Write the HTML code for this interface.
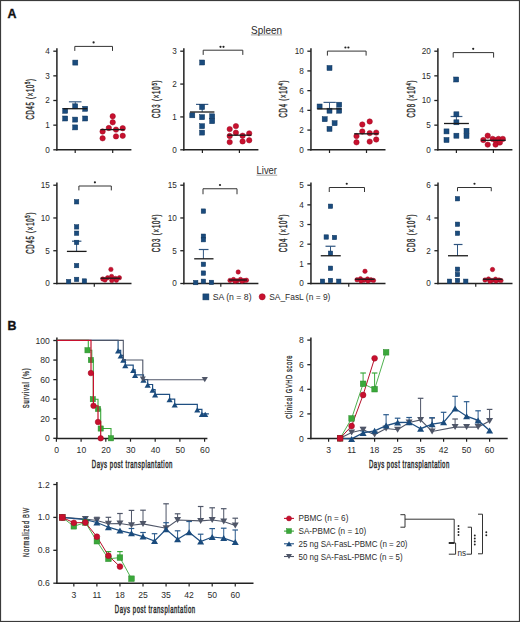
<!DOCTYPE html>
<html><head><meta charset="utf-8"><style>
html,body{margin:0;padding:0;background:#fff;}
svg{display:block;}
text{font-family:'Liberation Sans', sans-serif;}
</style></head><body>
<svg width="520" height="622" viewBox="0 0 520 622" font-family="'Liberation Sans', sans-serif">
<rect x="0.5" y="0.5" width="519" height="621" fill="#fff" stroke="#3a3a3a" stroke-width="1.2"/>
<text x="7.4" y="18" font-size="12.4" text-anchor="start" fill="#111" font-weight="bold" stroke="#111" stroke-width="0.35">A</text>
<text x="7.4" y="329.6" font-size="12.4" text-anchor="start" fill="#111" font-weight="bold" stroke="#111" stroke-width="0.35">B</text>
<text x="266.5" y="33.9" font-size="10.8" text-anchor="middle" fill="#2b2b2b" font-weight="normal" textLength="31.0" lengthAdjust="spacingAndGlyphs">Spleen</text>
<line x1="250.90" y1="34.90" x2="282.10" y2="34.90" stroke="#555" stroke-width="0.55"/>
<text x="266.8" y="173.9" font-size="10.8" text-anchor="middle" fill="#2b2b2b" font-weight="normal" textLength="20.4" lengthAdjust="spacingAndGlyphs">Liver</text>
<line x1="256.50" y1="175.20" x2="277.20" y2="175.20" stroke="#555" stroke-width="0.55"/>
<line x1="56.90" y1="48.30" x2="56.90" y2="150.50" stroke="#222222" stroke-width="1.5"/>
<line x1="53.30" y1="149.80" x2="56.90" y2="149.80" stroke="#222222" stroke-width="1.3"/>
<text x="49.8" y="152.67000000000002" font-size="8.2" text-anchor="end" fill="#2b2b2b" font-weight="normal">0</text>
<line x1="53.30" y1="125.15" x2="56.90" y2="125.15" stroke="#222222" stroke-width="1.3"/>
<text x="49.8" y="128.02" font-size="8.2" text-anchor="end" fill="#2b2b2b" font-weight="normal">1</text>
<line x1="53.30" y1="100.50" x2="56.90" y2="100.50" stroke="#222222" stroke-width="1.3"/>
<text x="49.8" y="103.37" font-size="8.2" text-anchor="end" fill="#2b2b2b" font-weight="normal">2</text>
<line x1="53.30" y1="75.85" x2="56.90" y2="75.85" stroke="#222222" stroke-width="1.3"/>
<text x="49.8" y="78.72000000000001" font-size="8.2" text-anchor="end" fill="#2b2b2b" font-weight="normal">3</text>
<line x1="53.30" y1="51.20" x2="56.90" y2="51.20" stroke="#222222" stroke-width="1.3"/>
<text x="49.8" y="54.07" font-size="8.2" text-anchor="end" fill="#2b2b2b" font-weight="normal">4</text>
<line x1="56.20" y1="149.80" x2="131.40" y2="149.80" stroke="#222222" stroke-width="1.5"/>
<line x1="75.20" y1="149.80" x2="75.20" y2="153.00" stroke="#222222" stroke-width="1.2"/>
<line x1="112.70" y1="149.80" x2="112.70" y2="153.00" stroke="#222222" stroke-width="1.2"/>
<line x1="75.30" y1="101.80" x2="75.30" y2="108.70" stroke="#3c5f88" stroke-width="1.0"/>
<line x1="68.90" y1="101.80" x2="81.50" y2="101.80" stroke="#3c5f88" stroke-width="1.2"/>
<rect x="72.80" y="60.10" width="5" height="5" fill="#1a4b7d" stroke="#10375e" stroke-width="0.5"/>
<rect x="72.70" y="103.80" width="5" height="5" fill="#1a4b7d" stroke="#10375e" stroke-width="0.5"/>
<rect x="62.70" y="108.30" width="5" height="5" fill="#1a4b7d" stroke="#10375e" stroke-width="0.5"/>
<rect x="82.70" y="106.30" width="5" height="5" fill="#1a4b7d" stroke="#10375e" stroke-width="0.5"/>
<rect x="62.70" y="116.00" width="5" height="5" fill="#1a4b7d" stroke="#10375e" stroke-width="0.5"/>
<rect x="72.70" y="117.10" width="5" height="5" fill="#1a4b7d" stroke="#10375e" stroke-width="0.5"/>
<rect x="82.70" y="116.00" width="5" height="5" fill="#1a4b7d" stroke="#10375e" stroke-width="0.5"/>
<rect x="72.70" y="124.90" width="5" height="5" fill="#1a4b7d" stroke="#10375e" stroke-width="0.5"/>
<circle cx="112.70" cy="116.30" r="2.7" fill="#c8102e" stroke="#9c0a22" stroke-width="0.5"/>
<circle cx="112.70" cy="122.30" r="2.7" fill="#c8102e" stroke="#9c0a22" stroke-width="0.5"/>
<circle cx="102.60" cy="131.50" r="2.7" fill="#c8102e" stroke="#9c0a22" stroke-width="0.5"/>
<circle cx="108.80" cy="128.00" r="2.7" fill="#c8102e" stroke="#9c0a22" stroke-width="0.5"/>
<circle cx="116.00" cy="129.60" r="2.7" fill="#c8102e" stroke="#9c0a22" stroke-width="0.5"/>
<circle cx="122.70" cy="128.20" r="2.7" fill="#c8102e" stroke="#9c0a22" stroke-width="0.5"/>
<circle cx="102.60" cy="138.30" r="2.7" fill="#c8102e" stroke="#9c0a22" stroke-width="0.5"/>
<circle cx="116.00" cy="136.40" r="2.7" fill="#c8102e" stroke="#9c0a22" stroke-width="0.5"/>
<circle cx="122.70" cy="135.80" r="2.7" fill="#c8102e" stroke="#9c0a22" stroke-width="0.5"/>
<line x1="63.20" y1="108.70" x2="87.20" y2="108.70" stroke="#1a1a1a" stroke-width="1.3"/>
<line x1="100.60" y1="129.60" x2="124.60" y2="129.60" stroke="#1a1a1a" stroke-width="1.3"/>
<polyline points="74.80,50.90 74.80,46.40 112.50,46.40 112.50,50.90" fill="none" stroke="#333" stroke-width="1.0" stroke-linejoin="miter"/>
<circle cx="93.60" cy="42.40" r="1.1" fill="#222"/>
<g transform="translate(33.5 99.25) rotate(-90) scale(0.6 1)"><text x="-33.92" y="0" font-size="10.0" fill="#2b2b2b" stroke="#2b2b2b" stroke-width="0.4" textLength="67.83" lengthAdjust="spacing">CD45 (×10<tspan dy="-3.8" font-size="7.00">5</tspan><tspan dy="3.8">)</tspan></text></g>
<line x1="183.85" y1="48.30" x2="183.85" y2="150.50" stroke="#222222" stroke-width="1.5"/>
<line x1="180.25" y1="149.80" x2="183.85" y2="149.80" stroke="#222222" stroke-width="1.3"/>
<text x="176.75" y="152.67000000000002" font-size="8.2" text-anchor="end" fill="#2b2b2b" font-weight="normal">0</text>
<line x1="180.25" y1="116.93" x2="183.85" y2="116.93" stroke="#222222" stroke-width="1.3"/>
<text x="176.75" y="119.80333333333334" font-size="8.2" text-anchor="end" fill="#2b2b2b" font-weight="normal">1</text>
<line x1="180.25" y1="84.07" x2="183.85" y2="84.07" stroke="#222222" stroke-width="1.3"/>
<text x="176.75" y="86.93666666666668" font-size="8.2" text-anchor="end" fill="#2b2b2b" font-weight="normal">2</text>
<line x1="180.25" y1="51.20" x2="183.85" y2="51.20" stroke="#222222" stroke-width="1.3"/>
<text x="176.75" y="54.07" font-size="8.2" text-anchor="end" fill="#2b2b2b" font-weight="normal">3</text>
<line x1="183.15" y1="149.80" x2="258.40" y2="149.80" stroke="#222222" stroke-width="1.5"/>
<line x1="202.40" y1="149.80" x2="202.40" y2="153.00" stroke="#222222" stroke-width="1.2"/>
<line x1="239.40" y1="149.80" x2="239.40" y2="153.00" stroke="#222222" stroke-width="1.2"/>
<line x1="202.20" y1="104.40" x2="202.20" y2="112.00" stroke="#3c5f88" stroke-width="1.0"/>
<line x1="196.00" y1="104.40" x2="208.30" y2="104.40" stroke="#3c5f88" stroke-width="1.2"/>
<rect x="199.70" y="60.00" width="5" height="5" fill="#1a4b7d" stroke="#10375e" stroke-width="0.5"/>
<rect x="199.60" y="104.60" width="5" height="5" fill="#1a4b7d" stroke="#10375e" stroke-width="0.5"/>
<rect x="189.80" y="112.80" width="5" height="5" fill="#1a4b7d" stroke="#10375e" stroke-width="0.5"/>
<rect x="199.60" y="114.70" width="5" height="5" fill="#1a4b7d" stroke="#10375e" stroke-width="0.5"/>
<rect x="209.70" y="113.80" width="5" height="5" fill="#1a4b7d" stroke="#10375e" stroke-width="0.5"/>
<rect x="209.70" y="118.70" width="5" height="5" fill="#1a4b7d" stroke="#10375e" stroke-width="0.5"/>
<rect x="199.60" y="123.70" width="5" height="5" fill="#1a4b7d" stroke="#10375e" stroke-width="0.5"/>
<rect x="199.60" y="130.10" width="5" height="5" fill="#1a4b7d" stroke="#10375e" stroke-width="0.5"/>
<circle cx="235.90" cy="126.10" r="2.7" fill="#c8102e" stroke="#9c0a22" stroke-width="0.5"/>
<circle cx="229.70" cy="129.10" r="2.7" fill="#c8102e" stroke="#9c0a22" stroke-width="0.5"/>
<circle cx="235.90" cy="132.70" r="2.7" fill="#c8102e" stroke="#9c0a22" stroke-width="0.5"/>
<circle cx="229.70" cy="136.00" r="2.7" fill="#c8102e" stroke="#9c0a22" stroke-width="0.5"/>
<circle cx="242.60" cy="135.70" r="2.7" fill="#c8102e" stroke="#9c0a22" stroke-width="0.5"/>
<circle cx="249.20" cy="133.40" r="2.7" fill="#c8102e" stroke="#9c0a22" stroke-width="0.5"/>
<circle cx="229.70" cy="142.10" r="2.7" fill="#c8102e" stroke="#9c0a22" stroke-width="0.5"/>
<circle cx="242.60" cy="141.40" r="2.7" fill="#c8102e" stroke="#9c0a22" stroke-width="0.5"/>
<circle cx="249.20" cy="140.30" r="2.7" fill="#c8102e" stroke="#9c0a22" stroke-width="0.5"/>
<line x1="190.00" y1="112.00" x2="214.40" y2="112.00" stroke="#1a1a1a" stroke-width="1.3"/>
<line x1="227.60" y1="135.20" x2="251.30" y2="135.20" stroke="#1a1a1a" stroke-width="1.3"/>
<polyline points="203.20,54.90 203.20,50.20 242.80,50.20 242.80,54.90" fill="none" stroke="#333" stroke-width="1.0" stroke-linejoin="miter"/>
<circle cx="220.50" cy="46.80" r="1.1" fill="#222"/>
<circle cx="223.50" cy="46.80" r="1.1" fill="#222"/>
<g transform="translate(160.3 99.25) rotate(-90) scale(0.6 1)"><text x="-31.42" y="0" font-size="10.0" fill="#2b2b2b" stroke="#2b2b2b" stroke-width="0.4" textLength="62.83" lengthAdjust="spacing">CD3 (×10<tspan dy="-3.8" font-size="7.00">5</tspan><tspan dy="3.8">)</tspan></text></g>
<line x1="310.95" y1="48.30" x2="310.95" y2="150.50" stroke="#222222" stroke-width="1.5"/>
<line x1="307.35" y1="149.80" x2="310.95" y2="149.80" stroke="#222222" stroke-width="1.3"/>
<text x="303.84999999999997" y="152.67000000000002" font-size="8.2" text-anchor="end" fill="#2b2b2b" font-weight="normal">0</text>
<line x1="307.35" y1="130.08" x2="310.95" y2="130.08" stroke="#222222" stroke-width="1.3"/>
<text x="303.84999999999997" y="132.95000000000002" font-size="8.2" text-anchor="end" fill="#2b2b2b" font-weight="normal">2</text>
<line x1="307.35" y1="110.36" x2="310.95" y2="110.36" stroke="#222222" stroke-width="1.3"/>
<text x="303.84999999999997" y="113.23000000000002" font-size="8.2" text-anchor="end" fill="#2b2b2b" font-weight="normal">4</text>
<line x1="307.35" y1="90.64" x2="310.95" y2="90.64" stroke="#222222" stroke-width="1.3"/>
<text x="303.84999999999997" y="93.51000000000002" font-size="8.2" text-anchor="end" fill="#2b2b2b" font-weight="normal">6</text>
<line x1="307.35" y1="70.92" x2="310.95" y2="70.92" stroke="#222222" stroke-width="1.3"/>
<text x="303.84999999999997" y="73.79" font-size="8.2" text-anchor="end" fill="#2b2b2b" font-weight="normal">8</text>
<line x1="307.35" y1="51.20" x2="310.95" y2="51.20" stroke="#222222" stroke-width="1.3"/>
<text x="303.84999999999997" y="54.07" font-size="8.2" text-anchor="end" fill="#2b2b2b" font-weight="normal">10</text>
<line x1="310.25" y1="149.80" x2="385.50" y2="149.80" stroke="#222222" stroke-width="1.5"/>
<line x1="329.50" y1="149.80" x2="329.50" y2="153.00" stroke="#222222" stroke-width="1.2"/>
<line x1="366.50" y1="149.80" x2="366.50" y2="153.00" stroke="#222222" stroke-width="1.2"/>
<line x1="329.50" y1="102.40" x2="329.50" y2="108.90" stroke="#3c5f88" stroke-width="1.0"/>
<line x1="323.50" y1="102.40" x2="335.80" y2="102.40" stroke="#3c5f88" stroke-width="1.2"/>
<rect x="327.00" y="65.50" width="5" height="5" fill="#1a4b7d" stroke="#10375e" stroke-width="0.5"/>
<rect x="317.10" y="104.00" width="5" height="5" fill="#1a4b7d" stroke="#10375e" stroke-width="0.5"/>
<rect x="336.70" y="102.20" width="5" height="5" fill="#1a4b7d" stroke="#10375e" stroke-width="0.5"/>
<rect x="336.70" y="108.20" width="5" height="5" fill="#1a4b7d" stroke="#10375e" stroke-width="0.5"/>
<rect x="327.00" y="108.20" width="5" height="5" fill="#1a4b7d" stroke="#10375e" stroke-width="0.5"/>
<rect x="322.20" y="116.70" width="5" height="5" fill="#1a4b7d" stroke="#10375e" stroke-width="0.5"/>
<rect x="332.10" y="120.70" width="5" height="5" fill="#1a4b7d" stroke="#10375e" stroke-width="0.5"/>
<rect x="327.00" y="126.40" width="5" height="5" fill="#1a4b7d" stroke="#10375e" stroke-width="0.5"/>
<circle cx="369.70" cy="121.50" r="2.7" fill="#c8102e" stroke="#9c0a22" stroke-width="0.5"/>
<circle cx="362.30" cy="124.50" r="2.7" fill="#c8102e" stroke="#9c0a22" stroke-width="0.5"/>
<circle cx="356.50" cy="136.10" r="2.7" fill="#c8102e" stroke="#9c0a22" stroke-width="0.5"/>
<circle cx="362.30" cy="131.50" r="2.7" fill="#c8102e" stroke="#9c0a22" stroke-width="0.5"/>
<circle cx="369.70" cy="133.10" r="2.7" fill="#c8102e" stroke="#9c0a22" stroke-width="0.5"/>
<circle cx="376.20" cy="132.60" r="2.7" fill="#c8102e" stroke="#9c0a22" stroke-width="0.5"/>
<circle cx="356.50" cy="142.30" r="2.7" fill="#c8102e" stroke="#9c0a22" stroke-width="0.5"/>
<circle cx="369.70" cy="141.60" r="2.7" fill="#c8102e" stroke="#9c0a22" stroke-width="0.5"/>
<circle cx="376.20" cy="139.50" r="2.7" fill="#c8102e" stroke="#9c0a22" stroke-width="0.5"/>
<line x1="317.30" y1="108.90" x2="341.50" y2="108.90" stroke="#1a1a1a" stroke-width="1.3"/>
<line x1="354.20" y1="133.80" x2="378.50" y2="133.80" stroke="#1a1a1a" stroke-width="1.3"/>
<polyline points="327.40,55.60 327.40,51.10 366.10,51.10 366.10,55.60" fill="none" stroke="#333" stroke-width="1.0" stroke-linejoin="miter"/>
<circle cx="345.40" cy="47.50" r="1.1" fill="#222"/>
<circle cx="348.40" cy="47.50" r="1.1" fill="#222"/>
<g transform="translate(287.2 98.95) rotate(-90) scale(0.6 1)"><text x="-30.92" y="0" font-size="10.0" fill="#2b2b2b" stroke="#2b2b2b" stroke-width="0.4" textLength="61.83" lengthAdjust="spacing">CD4 (×10<tspan dy="-3.8" font-size="7.00">4</tspan><tspan dy="3.8">)</tspan></text></g>
<line x1="437.90" y1="48.30" x2="437.90" y2="150.50" stroke="#222222" stroke-width="1.5"/>
<line x1="434.30" y1="149.80" x2="437.90" y2="149.80" stroke="#222222" stroke-width="1.3"/>
<text x="430.79999999999995" y="152.67000000000002" font-size="8.2" text-anchor="end" fill="#2b2b2b" font-weight="normal">0</text>
<line x1="434.30" y1="125.15" x2="437.90" y2="125.15" stroke="#222222" stroke-width="1.3"/>
<text x="430.79999999999995" y="128.02" font-size="8.2" text-anchor="end" fill="#2b2b2b" font-weight="normal">5</text>
<line x1="434.30" y1="100.50" x2="437.90" y2="100.50" stroke="#222222" stroke-width="1.3"/>
<text x="430.79999999999995" y="103.37" font-size="8.2" text-anchor="end" fill="#2b2b2b" font-weight="normal">10</text>
<line x1="434.30" y1="75.85" x2="437.90" y2="75.85" stroke="#222222" stroke-width="1.3"/>
<text x="430.79999999999995" y="78.72000000000001" font-size="8.2" text-anchor="end" fill="#2b2b2b" font-weight="normal">15</text>
<line x1="434.30" y1="51.20" x2="437.90" y2="51.20" stroke="#222222" stroke-width="1.3"/>
<text x="430.79999999999995" y="54.07" font-size="8.2" text-anchor="end" fill="#2b2b2b" font-weight="normal">20</text>
<line x1="437.20" y1="149.80" x2="512.40" y2="149.80" stroke="#222222" stroke-width="1.5"/>
<line x1="456.40" y1="149.80" x2="456.40" y2="153.00" stroke="#222222" stroke-width="1.2"/>
<line x1="493.40" y1="149.80" x2="493.40" y2="153.00" stroke="#222222" stroke-width="1.2"/>
<line x1="456.40" y1="116.50" x2="456.40" y2="123.50" stroke="#3c5f88" stroke-width="1.0"/>
<line x1="450.60" y1="116.50" x2="462.40" y2="116.50" stroke="#3c5f88" stroke-width="1.2"/>
<rect x="453.70" y="77.00" width="5" height="5" fill="#1a4b7d" stroke="#10375e" stroke-width="0.5"/>
<rect x="453.90" y="111.80" width="5" height="5" fill="#1a4b7d" stroke="#10375e" stroke-width="0.5"/>
<rect x="453.90" y="119.80" width="5" height="5" fill="#1a4b7d" stroke="#10375e" stroke-width="0.5"/>
<rect x="444.00" y="128.90" width="5" height="5" fill="#1a4b7d" stroke="#10375e" stroke-width="0.5"/>
<rect x="444.00" y="137.50" width="5" height="5" fill="#1a4b7d" stroke="#10375e" stroke-width="0.5"/>
<rect x="453.90" y="133.20" width="5" height="5" fill="#1a4b7d" stroke="#10375e" stroke-width="0.5"/>
<rect x="464.00" y="128.30" width="5" height="5" fill="#1a4b7d" stroke="#10375e" stroke-width="0.5"/>
<rect x="464.00" y="133.40" width="5" height="5" fill="#1a4b7d" stroke="#10375e" stroke-width="0.5"/>
<circle cx="487.70" cy="135.70" r="2.7" fill="#c8102e" stroke="#9c0a22" stroke-width="0.5"/>
<circle cx="483.30" cy="140.00" r="2.7" fill="#c8102e" stroke="#9c0a22" stroke-width="0.5"/>
<circle cx="487.70" cy="144.60" r="2.7" fill="#c8102e" stroke="#9c0a22" stroke-width="0.5"/>
<circle cx="492.70" cy="138.90" r="2.7" fill="#c8102e" stroke="#9c0a22" stroke-width="0.5"/>
<circle cx="495.60" cy="140.30" r="2.7" fill="#c8102e" stroke="#9c0a22" stroke-width="0.5"/>
<circle cx="498.50" cy="138.90" r="2.7" fill="#c8102e" stroke="#9c0a22" stroke-width="0.5"/>
<circle cx="502.80" cy="138.90" r="2.7" fill="#c8102e" stroke="#9c0a22" stroke-width="0.5"/>
<circle cx="495.60" cy="144.60" r="2.7" fill="#c8102e" stroke="#9c0a22" stroke-width="0.5"/>
<circle cx="499.90" cy="142.50" r="2.7" fill="#c8102e" stroke="#9c0a22" stroke-width="0.5"/>
<line x1="444.00" y1="123.50" x2="468.90" y2="123.50" stroke="#1a1a1a" stroke-width="1.3"/>
<line x1="481.20" y1="140.30" x2="505.70" y2="140.30" stroke="#1a1a1a" stroke-width="1.3"/>
<polyline points="453.20,57.60 453.20,52.60 493.60,52.60 493.60,57.60" fill="none" stroke="#333" stroke-width="1.0" stroke-linejoin="miter"/>
<circle cx="473.20" cy="48.80" r="1.1" fill="#222"/>
<g transform="translate(415.0 98.95) rotate(-90) scale(0.6 1)"><text x="-30.92" y="0" font-size="10.0" fill="#2b2b2b" stroke="#2b2b2b" stroke-width="0.4" textLength="61.83" lengthAdjust="spacing">CD8 (×10<tspan dy="-3.8" font-size="7.00">4</tspan><tspan dy="3.8">)</tspan></text></g>
<line x1="56.90" y1="182.60" x2="56.90" y2="284.20" stroke="#222222" stroke-width="1.5"/>
<line x1="53.30" y1="283.50" x2="56.90" y2="283.50" stroke="#222222" stroke-width="1.3"/>
<text x="49.8" y="286.37" font-size="8.2" text-anchor="end" fill="#2b2b2b" font-weight="normal">0</text>
<line x1="53.30" y1="250.73" x2="56.90" y2="250.73" stroke="#222222" stroke-width="1.3"/>
<text x="49.8" y="253.60333333333332" font-size="8.2" text-anchor="end" fill="#2b2b2b" font-weight="normal">5</text>
<line x1="53.30" y1="217.97" x2="56.90" y2="217.97" stroke="#222222" stroke-width="1.3"/>
<text x="49.8" y="220.83666666666664" font-size="8.2" text-anchor="end" fill="#2b2b2b" font-weight="normal">10</text>
<line x1="53.30" y1="185.20" x2="56.90" y2="185.20" stroke="#222222" stroke-width="1.3"/>
<text x="49.8" y="188.07" font-size="8.2" text-anchor="end" fill="#2b2b2b" font-weight="normal">15</text>
<line x1="56.20" y1="283.50" x2="131.50" y2="283.50" stroke="#222222" stroke-width="1.5"/>
<line x1="94.30" y1="283.50" x2="94.30" y2="286.70" stroke="#222222" stroke-width="1.2"/>
<line x1="76.60" y1="241.20" x2="76.60" y2="251.40" stroke="#2f5580" stroke-width="1.0"/>
<line x1="72.00" y1="241.20" x2="81.40" y2="241.20" stroke="#2f5580" stroke-width="1.2"/>
<rect x="74.40" y="199.60" width="4.4" height="4.4" fill="#1a4b7d" stroke="#10375e" stroke-width="0.5"/>
<rect x="74.40" y="224.70" width="4.4" height="4.4" fill="#1a4b7d" stroke="#10375e" stroke-width="0.5"/>
<rect x="74.40" y="231.00" width="4.4" height="4.4" fill="#1a4b7d" stroke="#10375e" stroke-width="0.5"/>
<rect x="74.40" y="240.20" width="4.4" height="4.4" fill="#1a4b7d" stroke="#10375e" stroke-width="0.5"/>
<rect x="74.40" y="263.40" width="4.4" height="4.4" fill="#1a4b7d" stroke="#10375e" stroke-width="0.5"/>
<rect x="74.40" y="277.20" width="4.4" height="4.4" fill="#1a4b7d" stroke="#10375e" stroke-width="0.5"/>
<rect x="66.40" y="279.40" width="4.4" height="4.4" fill="#1a4b7d" stroke="#10375e" stroke-width="0.5"/>
<rect x="82.20" y="278.80" width="4.4" height="4.4" fill="#1a4b7d" stroke="#10375e" stroke-width="0.5"/>
<circle cx="110.90" cy="269.40" r="2.2" fill="#c8102e" stroke="#9c0a22" stroke-width="0.5"/>
<circle cx="102.80" cy="279.00" r="2.2" fill="#c8102e" stroke="#9c0a22" stroke-width="0.5"/>
<circle cx="107.60" cy="277.80" r="2.2" fill="#c8102e" stroke="#9c0a22" stroke-width="0.5"/>
<circle cx="111.60" cy="276.40" r="2.2" fill="#c8102e" stroke="#9c0a22" stroke-width="0.5"/>
<circle cx="115.40" cy="278.40" r="2.2" fill="#c8102e" stroke="#9c0a22" stroke-width="0.5"/>
<circle cx="119.40" cy="277.80" r="2.2" fill="#c8102e" stroke="#9c0a22" stroke-width="0.5"/>
<circle cx="111.80" cy="280.60" r="2.2" fill="#c8102e" stroke="#9c0a22" stroke-width="0.5"/>
<circle cx="116.40" cy="280.20" r="2.2" fill="#c8102e" stroke="#9c0a22" stroke-width="0.5"/>
<circle cx="105.00" cy="280.00" r="2.2" fill="#c8102e" stroke="#9c0a22" stroke-width="0.5"/>
<line x1="66.90" y1="251.40" x2="86.60" y2="251.40" stroke="#1a1a1a" stroke-width="1.3"/>
<line x1="100.50" y1="278.20" x2="120.30" y2="278.20" stroke="#1a1a1a" stroke-width="1.3"/>
<polyline points="78.90,190.40 78.90,186.00 111.30,186.00 111.30,190.40" fill="none" stroke="#333" stroke-width="1.0" stroke-linejoin="miter"/>
<circle cx="94.90" cy="182.30" r="1.1" fill="#222"/>
<g transform="translate(33.5 233.15) rotate(-90) scale(0.6 1)"><text x="-34.42" y="0" font-size="10.0" fill="#2b2b2b" stroke="#2b2b2b" stroke-width="0.4" textLength="68.83" lengthAdjust="spacing">CD45 (×10<tspan dy="-3.8" font-size="7.00">5</tspan><tspan dy="3.8">)</tspan></text></g>
<line x1="183.90" y1="182.60" x2="183.90" y2="284.20" stroke="#222222" stroke-width="1.5"/>
<line x1="180.30" y1="283.50" x2="183.90" y2="283.50" stroke="#222222" stroke-width="1.3"/>
<text x="176.8" y="286.37" font-size="8.2" text-anchor="end" fill="#2b2b2b" font-weight="normal">0</text>
<line x1="180.30" y1="250.73" x2="183.90" y2="250.73" stroke="#222222" stroke-width="1.3"/>
<text x="176.8" y="253.60333333333332" font-size="8.2" text-anchor="end" fill="#2b2b2b" font-weight="normal">5</text>
<line x1="180.30" y1="217.97" x2="183.90" y2="217.97" stroke="#222222" stroke-width="1.3"/>
<text x="176.8" y="220.83666666666664" font-size="8.2" text-anchor="end" fill="#2b2b2b" font-weight="normal">10</text>
<line x1="180.30" y1="185.20" x2="183.90" y2="185.20" stroke="#222222" stroke-width="1.3"/>
<text x="176.8" y="188.07" font-size="8.2" text-anchor="end" fill="#2b2b2b" font-weight="normal">15</text>
<line x1="183.20" y1="283.50" x2="258.40" y2="283.50" stroke="#222222" stroke-width="1.5"/>
<line x1="220.80" y1="283.50" x2="220.80" y2="286.70" stroke="#222222" stroke-width="1.2"/>
<line x1="203.40" y1="249.50" x2="203.40" y2="258.80" stroke="#2f5580" stroke-width="1.0"/>
<line x1="198.80" y1="249.50" x2="208.50" y2="249.50" stroke="#2f5580" stroke-width="1.2"/>
<rect x="201.20" y="208.90" width="4.4" height="4.4" fill="#1a4b7d" stroke="#10375e" stroke-width="0.5"/>
<rect x="201.20" y="234.00" width="4.4" height="4.4" fill="#1a4b7d" stroke="#10375e" stroke-width="0.5"/>
<rect x="201.20" y="237.50" width="4.4" height="4.4" fill="#1a4b7d" stroke="#10375e" stroke-width="0.5"/>
<rect x="201.20" y="262.10" width="4.4" height="4.4" fill="#1a4b7d" stroke="#10375e" stroke-width="0.5"/>
<rect x="201.20" y="270.90" width="4.4" height="4.4" fill="#1a4b7d" stroke="#10375e" stroke-width="0.5"/>
<rect x="201.20" y="279.10" width="4.4" height="4.4" fill="#1a4b7d" stroke="#10375e" stroke-width="0.5"/>
<rect x="193.50" y="280.40" width="4.4" height="4.4" fill="#1a4b7d" stroke="#10375e" stroke-width="0.5"/>
<rect x="209.30" y="280.20" width="4.4" height="4.4" fill="#1a4b7d" stroke="#10375e" stroke-width="0.5"/>
<circle cx="238.20" cy="272.00" r="2.2" fill="#c8102e" stroke="#9c0a22" stroke-width="0.5"/>
<circle cx="230.00" cy="280.40" r="2.2" fill="#c8102e" stroke="#9c0a22" stroke-width="0.5"/>
<circle cx="233.50" cy="279.50" r="2.2" fill="#c8102e" stroke="#9c0a22" stroke-width="0.5"/>
<circle cx="237.00" cy="280.80" r="2.2" fill="#c8102e" stroke="#9c0a22" stroke-width="0.5"/>
<circle cx="240.50" cy="279.40" r="2.2" fill="#c8102e" stroke="#9c0a22" stroke-width="0.5"/>
<circle cx="244.00" cy="280.50" r="2.2" fill="#c8102e" stroke="#9c0a22" stroke-width="0.5"/>
<circle cx="246.50" cy="280.20" r="2.2" fill="#c8102e" stroke="#9c0a22" stroke-width="0.5"/>
<circle cx="235.00" cy="281.30" r="2.2" fill="#c8102e" stroke="#9c0a22" stroke-width="0.5"/>
<circle cx="242.00" cy="281.20" r="2.2" fill="#c8102e" stroke="#9c0a22" stroke-width="0.5"/>
<line x1="194.20" y1="258.80" x2="213.50" y2="258.80" stroke="#1a1a1a" stroke-width="1.3"/>
<line x1="229.00" y1="280.00" x2="247.00" y2="280.00" stroke="#1a1a1a" stroke-width="1.3"/>
<polyline points="203.00,194.25 203.00,188.75 237.00,188.75 237.00,194.25" fill="none" stroke="#333" stroke-width="1.0" stroke-linejoin="miter"/>
<circle cx="220.00" cy="185.00" r="1.1" fill="#222"/>
<g transform="translate(160.3 233.4) rotate(-90) scale(0.6 1)"><text x="-31.33" y="0" font-size="10.0" fill="#2b2b2b" stroke="#2b2b2b" stroke-width="0.4" textLength="62.67" lengthAdjust="spacing">CD3 (×10<tspan dy="-3.8" font-size="7.00">4</tspan><tspan dy="3.8">)</tspan></text></g>
<line x1="310.95" y1="182.60" x2="310.95" y2="284.20" stroke="#222222" stroke-width="1.5"/>
<line x1="307.35" y1="283.50" x2="310.95" y2="283.50" stroke="#222222" stroke-width="1.3"/>
<text x="303.84999999999997" y="286.37" font-size="8.2" text-anchor="end" fill="#2b2b2b" font-weight="normal">0</text>
<line x1="307.35" y1="263.84" x2="310.95" y2="263.84" stroke="#222222" stroke-width="1.3"/>
<text x="303.84999999999997" y="266.71" font-size="8.2" text-anchor="end" fill="#2b2b2b" font-weight="normal">1</text>
<line x1="307.35" y1="244.18" x2="310.95" y2="244.18" stroke="#222222" stroke-width="1.3"/>
<text x="303.84999999999997" y="247.05" font-size="8.2" text-anchor="end" fill="#2b2b2b" font-weight="normal">2</text>
<line x1="307.35" y1="224.52" x2="310.95" y2="224.52" stroke="#222222" stroke-width="1.3"/>
<text x="303.84999999999997" y="227.39" font-size="8.2" text-anchor="end" fill="#2b2b2b" font-weight="normal">3</text>
<line x1="307.35" y1="204.86" x2="310.95" y2="204.86" stroke="#222222" stroke-width="1.3"/>
<text x="303.84999999999997" y="207.73" font-size="8.2" text-anchor="end" fill="#2b2b2b" font-weight="normal">4</text>
<line x1="307.35" y1="185.20" x2="310.95" y2="185.20" stroke="#222222" stroke-width="1.3"/>
<text x="303.84999999999997" y="188.07" font-size="8.2" text-anchor="end" fill="#2b2b2b" font-weight="normal">5</text>
<line x1="310.25" y1="283.50" x2="385.50" y2="283.50" stroke="#222222" stroke-width="1.5"/>
<line x1="348.75" y1="283.50" x2="348.75" y2="286.70" stroke="#222222" stroke-width="1.2"/>
<line x1="330.50" y1="246.25" x2="330.50" y2="255.75" stroke="#2f5580" stroke-width="1.0"/>
<line x1="325.50" y1="246.25" x2="335.50" y2="246.25" stroke="#2f5580" stroke-width="1.2"/>
<rect x="328.30" y="204.05" width="4.4" height="4.4" fill="#1a4b7d" stroke="#10375e" stroke-width="0.5"/>
<rect x="324.05" y="234.80" width="4.4" height="4.4" fill="#1a4b7d" stroke="#10375e" stroke-width="0.5"/>
<rect x="332.30" y="235.30" width="4.4" height="4.4" fill="#1a4b7d" stroke="#10375e" stroke-width="0.5"/>
<rect x="328.30" y="251.05" width="4.4" height="4.4" fill="#1a4b7d" stroke="#10375e" stroke-width="0.5"/>
<rect x="328.30" y="266.05" width="4.4" height="4.4" fill="#1a4b7d" stroke="#10375e" stroke-width="0.5"/>
<rect x="320.30" y="279.05" width="4.4" height="4.4" fill="#1a4b7d" stroke="#10375e" stroke-width="0.5"/>
<rect x="328.30" y="278.30" width="4.4" height="4.4" fill="#1a4b7d" stroke="#10375e" stroke-width="0.5"/>
<rect x="336.55" y="279.05" width="4.4" height="4.4" fill="#1a4b7d" stroke="#10375e" stroke-width="0.5"/>
<circle cx="365.00" cy="271.25" r="2.2" fill="#c8102e" stroke="#9c0a22" stroke-width="0.5"/>
<circle cx="357.00" cy="279.80" r="2.2" fill="#c8102e" stroke="#9c0a22" stroke-width="0.5"/>
<circle cx="360.50" cy="278.80" r="2.2" fill="#c8102e" stroke="#9c0a22" stroke-width="0.5"/>
<circle cx="364.00" cy="280.20" r="2.2" fill="#c8102e" stroke="#9c0a22" stroke-width="0.5"/>
<circle cx="367.50" cy="279.00" r="2.2" fill="#c8102e" stroke="#9c0a22" stroke-width="0.5"/>
<circle cx="371.00" cy="279.80" r="2.2" fill="#c8102e" stroke="#9c0a22" stroke-width="0.5"/>
<circle cx="373.50" cy="280.40" r="2.2" fill="#c8102e" stroke="#9c0a22" stroke-width="0.5"/>
<circle cx="361.00" cy="281.00" r="2.2" fill="#c8102e" stroke="#9c0a22" stroke-width="0.5"/>
<circle cx="368.00" cy="281.00" r="2.2" fill="#c8102e" stroke="#9c0a22" stroke-width="0.5"/>
<line x1="320.75" y1="255.75" x2="340.75" y2="255.75" stroke="#1a1a1a" stroke-width="1.3"/>
<line x1="355.00" y1="279.25" x2="374.50" y2="279.25" stroke="#1a1a1a" stroke-width="1.3"/>
<polyline points="329.25,192.00 329.25,187.50 364.50,187.50 364.50,192.00" fill="none" stroke="#333" stroke-width="1.0" stroke-linejoin="miter"/>
<circle cx="346.75" cy="183.75" r="1.1" fill="#222"/>
<g transform="translate(287.2 233.4) rotate(-90) scale(0.6 1)"><text x="-31.33" y="0" font-size="10.0" fill="#2b2b2b" stroke="#2b2b2b" stroke-width="0.4" textLength="62.67" lengthAdjust="spacing">CD4 (×10<tspan dy="-3.8" font-size="7.00">4</tspan><tspan dy="3.8">)</tspan></text></g>
<line x1="438.00" y1="182.60" x2="438.00" y2="284.20" stroke="#222222" stroke-width="1.5"/>
<line x1="434.40" y1="283.50" x2="438.00" y2="283.50" stroke="#222222" stroke-width="1.3"/>
<text x="430.9" y="286.37" font-size="8.2" text-anchor="end" fill="#2b2b2b" font-weight="normal">0</text>
<line x1="434.40" y1="250.73" x2="438.00" y2="250.73" stroke="#222222" stroke-width="1.3"/>
<text x="430.9" y="253.60333333333332" font-size="8.2" text-anchor="end" fill="#2b2b2b" font-weight="normal">2</text>
<line x1="434.40" y1="217.97" x2="438.00" y2="217.97" stroke="#222222" stroke-width="1.3"/>
<text x="430.9" y="220.83666666666664" font-size="8.2" text-anchor="end" fill="#2b2b2b" font-weight="normal">4</text>
<line x1="434.40" y1="185.20" x2="438.00" y2="185.20" stroke="#222222" stroke-width="1.3"/>
<text x="430.9" y="188.07" font-size="8.2" text-anchor="end" fill="#2b2b2b" font-weight="normal">6</text>
<line x1="437.30" y1="283.50" x2="512.50" y2="283.50" stroke="#222222" stroke-width="1.5"/>
<line x1="475.75" y1="283.50" x2="475.75" y2="286.70" stroke="#222222" stroke-width="1.2"/>
<line x1="457.50" y1="244.50" x2="457.50" y2="255.75" stroke="#2f5580" stroke-width="1.0"/>
<line x1="453.75" y1="244.50" x2="462.50" y2="244.50" stroke="#2f5580" stroke-width="1.2"/>
<rect x="455.30" y="196.55" width="4.4" height="4.4" fill="#1a4b7d" stroke="#10375e" stroke-width="0.5"/>
<rect x="455.30" y="222.05" width="4.4" height="4.4" fill="#1a4b7d" stroke="#10375e" stroke-width="0.5"/>
<rect x="455.30" y="231.05" width="4.4" height="4.4" fill="#1a4b7d" stroke="#10375e" stroke-width="0.5"/>
<rect x="455.30" y="267.05" width="4.4" height="4.4" fill="#1a4b7d" stroke="#10375e" stroke-width="0.5"/>
<rect x="455.30" y="272.30" width="4.4" height="4.4" fill="#1a4b7d" stroke="#10375e" stroke-width="0.5"/>
<rect x="455.30" y="278.30" width="4.4" height="4.4" fill="#1a4b7d" stroke="#10375e" stroke-width="0.5"/>
<rect x="447.30" y="279.05" width="4.4" height="4.4" fill="#1a4b7d" stroke="#10375e" stroke-width="0.5"/>
<rect x="463.55" y="279.05" width="4.4" height="4.4" fill="#1a4b7d" stroke="#10375e" stroke-width="0.5"/>
<circle cx="492.50" cy="269.50" r="2.2" fill="#c8102e" stroke="#9c0a22" stroke-width="0.5"/>
<circle cx="485.00" cy="280.00" r="2.2" fill="#c8102e" stroke="#9c0a22" stroke-width="0.5"/>
<circle cx="488.50" cy="279.00" r="2.2" fill="#c8102e" stroke="#9c0a22" stroke-width="0.5"/>
<circle cx="492.00" cy="280.40" r="2.2" fill="#c8102e" stroke="#9c0a22" stroke-width="0.5"/>
<circle cx="495.50" cy="279.20" r="2.2" fill="#c8102e" stroke="#9c0a22" stroke-width="0.5"/>
<circle cx="499.00" cy="280.00" r="2.2" fill="#c8102e" stroke="#9c0a22" stroke-width="0.5"/>
<circle cx="501.00" cy="280.60" r="2.2" fill="#c8102e" stroke="#9c0a22" stroke-width="0.5"/>
<circle cx="490.00" cy="281.20" r="2.2" fill="#c8102e" stroke="#9c0a22" stroke-width="0.5"/>
<circle cx="496.00" cy="281.00" r="2.2" fill="#c8102e" stroke="#9c0a22" stroke-width="0.5"/>
<line x1="448.00" y1="255.75" x2="468.00" y2="255.75" stroke="#1a1a1a" stroke-width="1.3"/>
<line x1="483.00" y1="279.25" x2="502.50" y2="279.25" stroke="#1a1a1a" stroke-width="1.3"/>
<polyline points="457.50,191.25 457.50,187.50 491.25,187.50 491.25,191.25" fill="none" stroke="#333" stroke-width="1.0" stroke-linejoin="miter"/>
<circle cx="474.50" cy="183.75" r="1.1" fill="#222"/>
<g transform="translate(415.0 233.4) rotate(-90) scale(0.6 1)"><text x="-31.33" y="0" font-size="10.0" fill="#2b2b2b" stroke="#2b2b2b" stroke-width="0.4" textLength="62.67" lengthAdjust="spacing">CD8 (×10<tspan dy="-3.8" font-size="7.00">4</tspan><tspan dy="3.8">)</tspan></text></g>
<rect x="202.90" y="293.90" width="6.0" height="6.0" fill="#1a4b7d" stroke="#10375e" stroke-width="0.5"/>
<text x="212.7" y="300.0" font-size="8.5" text-anchor="start" fill="#2b2b2b" font-weight="normal" textLength="38.9" lengthAdjust="spacingAndGlyphs">SA (n = 8)</text>
<circle cx="262.20" cy="296.80" r="3.1" fill="#c8102e" stroke="#9c0a22" stroke-width="0.5"/>
<text x="269.2" y="300.0" font-size="8.5" text-anchor="start" fill="#2b2b2b" font-weight="normal" textLength="61.2" lengthAdjust="spacingAndGlyphs">SA_FasL (n = 9)</text>
<line x1="56.90" y1="337.50" x2="56.90" y2="439.00" stroke="#222222" stroke-width="1.5"/>
<line x1="53.30" y1="438.30" x2="56.90" y2="438.30" stroke="#222222" stroke-width="1.3"/>
<text x="49.8" y="441.31" font-size="8.6" text-anchor="end" fill="#2b2b2b" font-weight="normal">0</text>
<line x1="53.30" y1="418.74" x2="56.90" y2="418.74" stroke="#222222" stroke-width="1.3"/>
<text x="49.8" y="421.75" font-size="8.6" text-anchor="end" fill="#2b2b2b" font-weight="normal">20</text>
<line x1="53.30" y1="399.18" x2="56.90" y2="399.18" stroke="#222222" stroke-width="1.3"/>
<text x="49.8" y="402.19" font-size="8.6" text-anchor="end" fill="#2b2b2b" font-weight="normal">40</text>
<line x1="53.30" y1="379.62" x2="56.90" y2="379.62" stroke="#222222" stroke-width="1.3"/>
<text x="49.8" y="382.63" font-size="8.6" text-anchor="end" fill="#2b2b2b" font-weight="normal">60</text>
<line x1="53.30" y1="360.06" x2="56.90" y2="360.06" stroke="#222222" stroke-width="1.3"/>
<text x="49.8" y="363.07" font-size="8.6" text-anchor="end" fill="#2b2b2b" font-weight="normal">80</text>
<line x1="53.30" y1="340.50" x2="56.90" y2="340.50" stroke="#222222" stroke-width="1.3"/>
<text x="49.8" y="343.51" font-size="8.6" text-anchor="end" fill="#2b2b2b" font-weight="normal">100</text>
<line x1="56.20" y1="438.50" x2="207.40" y2="438.50" stroke="#222222" stroke-width="1.5"/>
<line x1="56.40" y1="438.50" x2="56.40" y2="441.70" stroke="#222222" stroke-width="1.2"/>
<line x1="81.10" y1="438.50" x2="81.10" y2="441.70" stroke="#222222" stroke-width="1.2"/>
<line x1="105.80" y1="438.50" x2="105.80" y2="441.70" stroke="#222222" stroke-width="1.2"/>
<line x1="130.50" y1="438.50" x2="130.50" y2="441.70" stroke="#222222" stroke-width="1.2"/>
<line x1="155.20" y1="438.50" x2="155.20" y2="441.70" stroke="#222222" stroke-width="1.2"/>
<line x1="179.90" y1="438.50" x2="179.90" y2="441.70" stroke="#222222" stroke-width="1.2"/>
<line x1="204.60" y1="438.50" x2="204.60" y2="441.70" stroke="#222222" stroke-width="1.2"/>
<text x="56.699999999999996" y="452.8" font-size="8.6" text-anchor="middle" fill="#2b2b2b" font-weight="normal">0</text>
<text x="81.39999999999999" y="452.8" font-size="8.6" text-anchor="middle" fill="#2b2b2b" font-weight="normal">10</text>
<text x="106.10000000000001" y="452.8" font-size="8.6" text-anchor="middle" fill="#2b2b2b" font-weight="normal">20</text>
<text x="130.8" y="452.8" font-size="8.6" text-anchor="middle" fill="#2b2b2b" font-weight="normal">30</text>
<text x="155.50000000000003" y="452.8" font-size="8.6" text-anchor="middle" fill="#2b2b2b" font-weight="normal">40</text>
<text x="180.20000000000002" y="452.8" font-size="8.6" text-anchor="middle" fill="#2b2b2b" font-weight="normal">50</text>
<text x="204.90000000000003" y="452.8" font-size="8.6" text-anchor="middle" fill="#2b2b2b" font-weight="normal">60</text>
<g transform="translate(132.1 467.9) scale(0.6 1)"><text x="-67.08" y="0" font-size="10.0" fill="#2b2b2b" stroke="#2b2b2b" stroke-width="0.45" textLength="134.17" lengthAdjust="spacing">Days post transplantation</text></g>
<g transform="translate(28.5 388.30) rotate(-90) scale(0.6 1)"><text x="-33.17" y="0" font-size="9.7" fill="#2b2b2b" stroke="#2b2b2b" stroke-width="0.3" textLength="66.33" lengthAdjust="spacing">Survival (%)</text></g>
<polyline points="56.90,340.40 118.10,340.40 118.10,350.30 120.70,350.30 120.70,355.30 123.30,355.30 123.30,359.50 125.30,359.50 125.30,365.10 133.20,365.10 133.20,369.80 135.10,369.80 135.10,374.90 143.50,374.90 143.50,379.50 147.70,379.50 147.70,384.50 152.60,384.50 152.60,389.50 155.10,389.50 155.10,394.30 169.60,394.30 169.60,399.20 174.70,399.20 174.70,404.30 197.30,404.30 197.30,409.40 201.90,409.40 201.90,413.80 208.90,413.80" fill="none" stroke="#1f4f82" stroke-width="1.2" stroke-linejoin="miter"/>
<polygon points="118.10,348.15 121.20,353.45 115.00,353.45" fill="#1a4b7d"/>
<polygon points="120.70,353.15 123.80,358.45 117.60,358.45" fill="#1a4b7d"/>
<polygon points="123.30,357.35 126.40,362.65 120.20,362.65" fill="#1a4b7d"/>
<polygon points="125.30,362.95 128.40,368.25 122.20,368.25" fill="#1a4b7d"/>
<polygon points="133.20,367.65 136.30,372.95 130.10,372.95" fill="#1a4b7d"/>
<polygon points="135.10,372.75 138.20,378.05 132.00,378.05" fill="#1a4b7d"/>
<polygon points="143.50,377.35 146.60,382.65 140.40,382.65" fill="#1a4b7d"/>
<polygon points="147.70,382.35 150.80,387.65 144.60,387.65" fill="#1a4b7d"/>
<polygon points="152.60,387.35 155.70,392.65 149.50,392.65" fill="#1a4b7d"/>
<polygon points="155.10,392.15 158.20,397.45 152.00,397.45" fill="#1a4b7d"/>
<polygon points="169.60,397.05 172.70,402.35 166.50,402.35" fill="#1a4b7d"/>
<polygon points="174.70,402.15 177.80,407.45 171.60,407.45" fill="#1a4b7d"/>
<polygon points="197.30,407.25 200.40,412.55 194.20,412.55" fill="#1a4b7d"/>
<polygon points="201.90,411.65 205.00,416.95 198.80,416.95" fill="#1a4b7d"/>
<polygon points="205.20,411.65 208.30,416.95 202.10,416.95" fill="#1a4b7d"/>
<polyline points="56.90,340.40 123.30,340.40 123.30,360.00 142.80,360.00 142.80,379.70 204.80,379.70" fill="none" stroke="#4f5668" stroke-width="1.1" stroke-linejoin="miter"/>
<polygon points="142.80,381.80 145.80,376.60 139.80,376.60" fill="#4f5668"/>
<polygon points="204.80,382.30 207.90,377.10 201.70,377.10" fill="#4f5668"/>
<polyline points="56.90,340.40 88.30,340.40 88.30,350.28 91.80,350.28 91.80,360.06 93.30,360.06 93.30,399.18 98.00,399.18 98.00,408.96 100.70,408.96 100.70,428.52 111.00,428.52 111.00,438.30" fill="none" stroke="#3aa83a" stroke-width="1.1" stroke-linejoin="miter"/>
<rect x="84.90" y="347.68" width="5.2" height="5.2" fill="#3aa83a" stroke="#2a8a2a" stroke-width="0.5"/>
<rect x="88.30" y="357.46" width="5.2" height="5.2" fill="#3aa83a" stroke="#2a8a2a" stroke-width="0.5"/>
<rect x="90.20" y="396.58" width="5.2" height="5.2" fill="#3aa83a" stroke="#2a8a2a" stroke-width="0.5"/>
<rect x="95.40" y="406.36" width="5.2" height="5.2" fill="#3aa83a" stroke="#2a8a2a" stroke-width="0.5"/>
<rect x="98.10" y="425.92" width="5.2" height="5.2" fill="#3aa83a" stroke="#2a8a2a" stroke-width="0.5"/>
<rect x="108.40" y="435.70" width="5.2" height="5.2" fill="#3aa83a" stroke="#2a8a2a" stroke-width="0.5"/>
<polyline points="56.90,340.40 91.00,340.40 91.00,373.07 93.40,373.07 93.40,405.73 98.00,405.73 98.00,421.97 100.70,421.97 100.70,438.30" fill="none" stroke="#c8102e" stroke-width="1.2" stroke-linejoin="miter"/>
<circle cx="90.90" cy="373.07" r="2.8" fill="#c8102e" stroke="#9c0a22" stroke-width="0.5"/>
<circle cx="93.50" cy="405.73" r="2.8" fill="#c8102e" stroke="#9c0a22" stroke-width="0.5"/>
<circle cx="98.00" cy="421.97" r="2.8" fill="#c8102e" stroke="#9c0a22" stroke-width="0.5"/>
<circle cx="100.70" cy="438.30" r="2.8" fill="#c8102e" stroke="#9c0a22" stroke-width="0.5"/>
<line x1="310.90" y1="337.50" x2="310.90" y2="439.20" stroke="#222222" stroke-width="1.5"/>
<line x1="307.30" y1="438.50" x2="310.90" y2="438.50" stroke="#222222" stroke-width="1.3"/>
<text x="303.79999999999995" y="441.51" font-size="8.6" text-anchor="end" fill="#2b2b2b" font-weight="normal">0</text>
<line x1="307.30" y1="413.90" x2="310.90" y2="413.90" stroke="#222222" stroke-width="1.3"/>
<text x="303.79999999999995" y="416.90999999999997" font-size="8.6" text-anchor="end" fill="#2b2b2b" font-weight="normal">2</text>
<line x1="307.30" y1="389.30" x2="310.90" y2="389.30" stroke="#222222" stroke-width="1.3"/>
<text x="303.79999999999995" y="392.31" font-size="8.6" text-anchor="end" fill="#2b2b2b" font-weight="normal">4</text>
<line x1="307.30" y1="364.70" x2="310.90" y2="364.70" stroke="#222222" stroke-width="1.3"/>
<text x="303.79999999999995" y="367.71" font-size="8.6" text-anchor="end" fill="#2b2b2b" font-weight="normal">6</text>
<line x1="307.30" y1="340.10" x2="310.90" y2="340.10" stroke="#222222" stroke-width="1.3"/>
<text x="303.79999999999995" y="343.11" font-size="8.6" text-anchor="end" fill="#2b2b2b" font-weight="normal">8</text>
<line x1="310.20" y1="438.50" x2="507.70" y2="438.50" stroke="#222222" stroke-width="1.5"/>
<line x1="328.60" y1="438.50" x2="328.60" y2="441.70" stroke="#222222" stroke-width="1.2"/>
<line x1="351.60" y1="438.50" x2="351.60" y2="441.70" stroke="#222222" stroke-width="1.2"/>
<line x1="374.60" y1="438.50" x2="374.60" y2="441.70" stroke="#222222" stroke-width="1.2"/>
<line x1="397.60" y1="438.50" x2="397.60" y2="441.70" stroke="#222222" stroke-width="1.2"/>
<line x1="420.60" y1="438.50" x2="420.60" y2="441.70" stroke="#222222" stroke-width="1.2"/>
<line x1="443.60" y1="438.50" x2="443.60" y2="441.70" stroke="#222222" stroke-width="1.2"/>
<line x1="466.60" y1="438.50" x2="466.60" y2="441.70" stroke="#222222" stroke-width="1.2"/>
<line x1="489.60" y1="438.50" x2="489.60" y2="441.70" stroke="#222222" stroke-width="1.2"/>
<text x="328.6" y="452.8" font-size="8.6" text-anchor="middle" fill="#2b2b2b" font-weight="normal">3</text>
<text x="351.6" y="452.8" font-size="8.6" text-anchor="middle" fill="#2b2b2b" font-weight="normal">11</text>
<text x="374.6" y="452.8" font-size="8.6" text-anchor="middle" fill="#2b2b2b" font-weight="normal">18</text>
<text x="397.6" y="452.8" font-size="8.6" text-anchor="middle" fill="#2b2b2b" font-weight="normal">25</text>
<text x="420.6" y="452.8" font-size="8.6" text-anchor="middle" fill="#2b2b2b" font-weight="normal">35</text>
<text x="443.6" y="452.8" font-size="8.6" text-anchor="middle" fill="#2b2b2b" font-weight="normal">42</text>
<text x="466.6" y="452.8" font-size="8.6" text-anchor="middle" fill="#2b2b2b" font-weight="normal">50</text>
<text x="489.6" y="452.8" font-size="8.6" text-anchor="middle" fill="#2b2b2b" font-weight="normal">60</text>
<g transform="translate(409.1 467.9) scale(0.6 1)"><text x="-67.00" y="0" font-size="10.0" fill="#2b2b2b" stroke="#2b2b2b" stroke-width="0.45" textLength="134.00" lengthAdjust="spacing">Days post transplantation</text></g>
<g transform="translate(292.2 387.05) rotate(-90) scale(0.6 1)"><text x="-52.75" y="0" font-size="9.7" fill="#2b2b2b" stroke="#2b2b2b" stroke-width="0.3" textLength="105.50" lengthAdjust="spacing">Clinical GVHD score</text></g>
<line x1="363.10" y1="427.50" x2="363.10" y2="429.80" stroke="#4f5668" stroke-width="1.0"/>
<line x1="360.30" y1="427.50" x2="365.90" y2="427.50" stroke="#4f5668" stroke-width="1.2"/>
<line x1="420.60" y1="398.30" x2="420.60" y2="419.90" stroke="#4f5668" stroke-width="1.0"/>
<line x1="417.80" y1="398.30" x2="423.40" y2="398.30" stroke="#4f5668" stroke-width="1.2"/>
<line x1="432.10" y1="418.00" x2="432.10" y2="431.50" stroke="#4f5668" stroke-width="1.0"/>
<line x1="429.30" y1="418.00" x2="434.90" y2="418.00" stroke="#4f5668" stroke-width="1.2"/>
<line x1="455.10" y1="419.00" x2="455.10" y2="427.10" stroke="#4f5668" stroke-width="1.0"/>
<line x1="452.30" y1="419.00" x2="457.90" y2="419.00" stroke="#4f5668" stroke-width="1.2"/>
<line x1="478.10" y1="421.00" x2="478.10" y2="427.10" stroke="#4f5668" stroke-width="1.0"/>
<line x1="475.30" y1="421.00" x2="480.90" y2="421.00" stroke="#4f5668" stroke-width="1.2"/>
<line x1="489.60" y1="409.40" x2="489.60" y2="421.00" stroke="#4f5668" stroke-width="1.0"/>
<line x1="486.80" y1="409.40" x2="492.40" y2="409.40" stroke="#4f5668" stroke-width="1.2"/>
<line x1="363.10" y1="431.00" x2="363.10" y2="432.90" stroke="#2a5a8c" stroke-width="1.0"/>
<line x1="360.30" y1="431.00" x2="365.90" y2="431.00" stroke="#2a5a8c" stroke-width="1.2"/>
<line x1="386.10" y1="414.70" x2="386.10" y2="425.60" stroke="#2a5a8c" stroke-width="1.0"/>
<line x1="383.30" y1="414.70" x2="388.90" y2="414.70" stroke="#2a5a8c" stroke-width="1.2"/>
<line x1="397.60" y1="418.20" x2="397.60" y2="422.50" stroke="#2a5a8c" stroke-width="1.0"/>
<line x1="394.80" y1="418.20" x2="400.40" y2="418.20" stroke="#2a5a8c" stroke-width="1.2"/>
<line x1="409.10" y1="417.50" x2="409.10" y2="422.30" stroke="#2a5a8c" stroke-width="1.0"/>
<line x1="406.30" y1="417.50" x2="411.90" y2="417.50" stroke="#2a5a8c" stroke-width="1.2"/>
<line x1="432.10" y1="417.70" x2="432.10" y2="424.20" stroke="#2a5a8c" stroke-width="1.0"/>
<line x1="429.30" y1="417.70" x2="434.90" y2="417.70" stroke="#2a5a8c" stroke-width="1.2"/>
<line x1="443.60" y1="412.30" x2="443.60" y2="422.30" stroke="#2a5a8c" stroke-width="1.0"/>
<line x1="440.80" y1="412.30" x2="446.40" y2="412.30" stroke="#2a5a8c" stroke-width="1.2"/>
<line x1="455.10" y1="396.30" x2="455.10" y2="408.50" stroke="#2a5a8c" stroke-width="1.0"/>
<line x1="452.30" y1="396.30" x2="457.90" y2="396.30" stroke="#2a5a8c" stroke-width="1.2"/>
<line x1="466.60" y1="401.70" x2="466.60" y2="416.20" stroke="#2a5a8c" stroke-width="1.0"/>
<line x1="463.80" y1="401.70" x2="469.40" y2="401.70" stroke="#2a5a8c" stroke-width="1.2"/>
<line x1="478.10" y1="410.80" x2="478.10" y2="420.40" stroke="#2a5a8c" stroke-width="1.0"/>
<line x1="475.30" y1="410.80" x2="480.90" y2="410.80" stroke="#2a5a8c" stroke-width="1.2"/>
<polyline points="340.10,438.30 351.60,432.50 363.10,429.80 374.60,434.60 386.10,428.50 397.60,429.80 409.10,422.50 420.60,419.90 432.10,431.50 455.10,427.10 466.60,427.10 478.10,427.10 489.60,421.00" fill="none" stroke="#4f5668" stroke-width="1.1" stroke-linejoin="miter"/>
<polyline points="340.10,438.30 351.60,438.90 363.10,432.90 374.60,430.80 386.10,425.60 397.60,422.50 409.10,422.30 420.60,428.70 432.10,424.20 443.60,422.30 455.10,408.50 466.60,416.20 478.10,420.40 489.60,430.60" fill="none" stroke="#1f4f82" stroke-width="1.3" stroke-linejoin="miter"/>
<polygon points="351.60,435.50 355.10,429.50 348.10,429.50" fill="#4f5668"/>
<polygon points="363.10,432.80 366.60,426.80 359.60,426.80" fill="#4f5668"/>
<polygon points="374.60,437.60 378.10,431.60 371.10,431.60" fill="#4f5668"/>
<polygon points="386.10,431.50 389.60,425.50 382.60,425.50" fill="#4f5668"/>
<polygon points="397.60,432.80 401.10,426.80 394.10,426.80" fill="#4f5668"/>
<polygon points="409.10,425.50 412.60,419.50 405.60,419.50" fill="#4f5668"/>
<polygon points="420.60,422.90 424.10,416.90 417.10,416.90" fill="#4f5668"/>
<polygon points="432.10,434.50 435.60,428.50 428.60,428.50" fill="#4f5668"/>
<polygon points="455.10,430.10 458.60,424.10 451.60,424.10" fill="#4f5668"/>
<polygon points="466.60,430.10 470.10,424.10 463.10,424.10" fill="#4f5668"/>
<polygon points="478.10,430.10 481.60,424.10 474.60,424.10" fill="#4f5668"/>
<polygon points="489.60,424.00 493.10,418.00 486.10,418.00" fill="#4f5668"/>
<polygon points="351.60,435.90 355.10,441.90 348.10,441.90" fill="#1a4b7d"/>
<polygon points="363.10,429.90 366.60,435.90 359.60,435.90" fill="#1a4b7d"/>
<polygon points="374.60,427.80 378.10,433.80 371.10,433.80" fill="#1a4b7d"/>
<polygon points="386.10,422.60 389.60,428.60 382.60,428.60" fill="#1a4b7d"/>
<polygon points="397.60,419.50 401.10,425.50 394.10,425.50" fill="#1a4b7d"/>
<polygon points="409.10,419.30 412.60,425.30 405.60,425.30" fill="#1a4b7d"/>
<polygon points="420.60,425.70 424.10,431.70 417.10,431.70" fill="#1a4b7d"/>
<polygon points="432.10,421.20 435.60,427.20 428.60,427.20" fill="#1a4b7d"/>
<polygon points="443.60,419.30 447.10,425.30 440.10,425.30" fill="#1a4b7d"/>
<polygon points="455.10,405.50 458.60,411.50 451.60,411.50" fill="#1a4b7d"/>
<polygon points="466.60,413.20 470.10,419.20 463.10,419.20" fill="#1a4b7d"/>
<polygon points="478.10,417.40 481.60,423.40 474.60,423.40" fill="#1a4b7d"/>
<polygon points="489.60,427.60 493.10,433.60 486.10,433.60" fill="#1a4b7d"/>
<line x1="363.10" y1="373.00" x2="363.10" y2="383.80" stroke="#3aa83a" stroke-width="1.0"/>
<line x1="360.30" y1="373.00" x2="365.90" y2="373.00" stroke="#3aa83a" stroke-width="1.2"/>
<line x1="374.60" y1="373.00" x2="374.60" y2="389.20" stroke="#3aa83a" stroke-width="1.0"/>
<line x1="371.80" y1="373.00" x2="377.40" y2="373.00" stroke="#3aa83a" stroke-width="1.2"/>
<polyline points="340.10,438.30 351.60,418.50 363.10,383.80 374.60,389.20 386.10,352.30" fill="none" stroke="#3aa83a" stroke-width="0.9" stroke-linejoin="miter"/>
<polyline points="340.10,438.30 351.60,426.00 363.10,395.00 374.60,358.30" fill="none" stroke="#b5102a" stroke-width="1.0" stroke-linejoin="miter"/>
<rect x="337.30" y="435.50" width="5.6" height="5.6" fill="#3aa83a" stroke="#2a8a2a" stroke-width="0.5"/>
<rect x="348.80" y="415.70" width="5.6" height="5.6" fill="#3aa83a" stroke="#2a8a2a" stroke-width="0.5"/>
<rect x="360.30" y="381.00" width="5.6" height="5.6" fill="#3aa83a" stroke="#2a8a2a" stroke-width="0.5"/>
<rect x="371.80" y="386.40" width="5.6" height="5.6" fill="#3aa83a" stroke="#2a8a2a" stroke-width="0.5"/>
<rect x="383.30" y="349.50" width="5.6" height="5.6" fill="#3aa83a" stroke="#2a8a2a" stroke-width="0.5"/>
<circle cx="340.10" cy="438.30" r="2.9" fill="#c8102e" stroke="#9c0a22" stroke-width="0.5"/>
<circle cx="351.60" cy="426.00" r="2.9" fill="#c8102e" stroke="#9c0a22" stroke-width="0.5"/>
<circle cx="363.10" cy="395.00" r="2.9" fill="#c8102e" stroke="#9c0a22" stroke-width="0.5"/>
<circle cx="374.60" cy="358.30" r="2.9" fill="#c8102e" stroke="#9c0a22" stroke-width="0.5"/>
<rect x="337.30" y="435.50" width="5.6" height="5.6" fill="#c8102e" stroke="#9c0a22" stroke-width="0.5"/>
<line x1="56.90" y1="482.00" x2="56.90" y2="584.00" stroke="#222222" stroke-width="1.5"/>
<line x1="53.30" y1="583.20" x2="56.90" y2="583.20" stroke="#222222" stroke-width="1.3"/>
<text x="49.8" y="586.2099999999999" font-size="8.6" text-anchor="end" fill="#2b2b2b" font-weight="normal">0.6</text>
<line x1="53.30" y1="550.30" x2="56.90" y2="550.30" stroke="#222222" stroke-width="1.3"/>
<text x="49.8" y="553.31" font-size="8.6" text-anchor="end" fill="#2b2b2b" font-weight="normal">0.8</text>
<line x1="53.30" y1="517.40" x2="56.90" y2="517.40" stroke="#222222" stroke-width="1.3"/>
<text x="49.8" y="520.41" font-size="8.6" text-anchor="end" fill="#2b2b2b" font-weight="normal">1.0</text>
<line x1="53.30" y1="484.50" x2="56.90" y2="484.50" stroke="#222222" stroke-width="1.3"/>
<text x="49.8" y="487.51" font-size="8.6" text-anchor="end" fill="#2b2b2b" font-weight="normal">1.2</text>
<line x1="56.20" y1="583.30" x2="253.50" y2="583.30" stroke="#222222" stroke-width="1.5"/>
<line x1="73.83" y1="583.30" x2="73.83" y2="586.50" stroke="#222222" stroke-width="1.2"/>
<line x1="96.89" y1="583.30" x2="96.89" y2="586.50" stroke="#222222" stroke-width="1.2"/>
<line x1="119.95" y1="583.30" x2="119.95" y2="586.50" stroke="#222222" stroke-width="1.2"/>
<line x1="143.01" y1="583.30" x2="143.01" y2="586.50" stroke="#222222" stroke-width="1.2"/>
<line x1="166.07" y1="583.30" x2="166.07" y2="586.50" stroke="#222222" stroke-width="1.2"/>
<line x1="189.13" y1="583.30" x2="189.13" y2="586.50" stroke="#222222" stroke-width="1.2"/>
<line x1="212.19" y1="583.30" x2="212.19" y2="586.50" stroke="#222222" stroke-width="1.2"/>
<line x1="235.25" y1="583.30" x2="235.25" y2="586.50" stroke="#222222" stroke-width="1.2"/>
<text x="73.83" y="597.7" font-size="8.6" text-anchor="middle" fill="#2b2b2b" font-weight="normal">3</text>
<text x="96.88999999999999" y="597.7" font-size="8.6" text-anchor="middle" fill="#2b2b2b" font-weight="normal">11</text>
<text x="119.94999999999999" y="597.7" font-size="8.6" text-anchor="middle" fill="#2b2b2b" font-weight="normal">18</text>
<text x="143.01" y="597.7" font-size="8.6" text-anchor="middle" fill="#2b2b2b" font-weight="normal">25</text>
<text x="166.07" y="597.7" font-size="8.6" text-anchor="middle" fill="#2b2b2b" font-weight="normal">35</text>
<text x="189.13" y="597.7" font-size="8.6" text-anchor="middle" fill="#2b2b2b" font-weight="normal">42</text>
<text x="212.19" y="597.7" font-size="8.6" text-anchor="middle" fill="#2b2b2b" font-weight="normal">50</text>
<text x="235.25" y="597.7" font-size="8.6" text-anchor="middle" fill="#2b2b2b" font-weight="normal">60</text>
<g transform="translate(155.0 612.8) scale(0.6 1)"><text x="-67.00" y="0" font-size="10.0" fill="#2b2b2b" stroke="#2b2b2b" stroke-width="0.45" textLength="134.00" lengthAdjust="spacing">Days post transplantation</text></g>
<g transform="translate(28.6 532.40) rotate(-90) scale(0.6 1)"><text x="-41.00" y="0" font-size="9.7" fill="#2b2b2b" stroke="#2b2b2b" stroke-width="0.3" textLength="82.00" lengthAdjust="spacing">Normalized BW</text></g>
<line x1="96.89" y1="517.30" x2="96.89" y2="520.50" stroke="#4f5668" stroke-width="1.0"/>
<line x1="94.09" y1="517.30" x2="99.69" y2="517.30" stroke="#4f5668" stroke-width="1.2"/>
<line x1="108.42" y1="517.30" x2="108.42" y2="523.80" stroke="#4f5668" stroke-width="1.0"/>
<line x1="105.62" y1="517.30" x2="111.22" y2="517.30" stroke="#4f5668" stroke-width="1.2"/>
<line x1="119.95" y1="513.50" x2="119.95" y2="523.50" stroke="#4f5668" stroke-width="1.0"/>
<line x1="117.15" y1="513.50" x2="122.75" y2="513.50" stroke="#4f5668" stroke-width="1.2"/>
<line x1="131.48" y1="510.40" x2="131.48" y2="525.30" stroke="#4f5668" stroke-width="1.0"/>
<line x1="128.68" y1="510.40" x2="134.28" y2="510.40" stroke="#4f5668" stroke-width="1.2"/>
<line x1="143.01" y1="510.20" x2="143.01" y2="523.90" stroke="#4f5668" stroke-width="1.0"/>
<line x1="140.21" y1="510.20" x2="145.81" y2="510.20" stroke="#4f5668" stroke-width="1.2"/>
<line x1="166.07" y1="503.80" x2="166.07" y2="528.20" stroke="#4f5668" stroke-width="1.0"/>
<line x1="163.27" y1="503.80" x2="168.87" y2="503.80" stroke="#4f5668" stroke-width="1.2"/>
<line x1="177.60" y1="513.80" x2="177.60" y2="520.00" stroke="#4f5668" stroke-width="1.0"/>
<line x1="174.80" y1="513.80" x2="180.40" y2="513.80" stroke="#4f5668" stroke-width="1.2"/>
<line x1="200.66" y1="506.50" x2="200.66" y2="520.90" stroke="#4f5668" stroke-width="1.0"/>
<line x1="197.86" y1="506.50" x2="203.46" y2="506.50" stroke="#4f5668" stroke-width="1.2"/>
<line x1="212.19" y1="507.80" x2="212.19" y2="520.00" stroke="#4f5668" stroke-width="1.0"/>
<line x1="209.39" y1="507.80" x2="214.99" y2="507.80" stroke="#4f5668" stroke-width="1.2"/>
<line x1="223.72" y1="508.70" x2="223.72" y2="521.50" stroke="#4f5668" stroke-width="1.0"/>
<line x1="220.92" y1="508.70" x2="226.52" y2="508.70" stroke="#4f5668" stroke-width="1.2"/>
<line x1="235.25" y1="518.20" x2="235.25" y2="525.50" stroke="#4f5668" stroke-width="1.0"/>
<line x1="232.45" y1="518.20" x2="238.05" y2="518.20" stroke="#4f5668" stroke-width="1.2"/>
<line x1="131.48" y1="528.50" x2="131.48" y2="533.30" stroke="#2a5a8c" stroke-width="1.0"/>
<line x1="128.68" y1="528.50" x2="134.28" y2="528.50" stroke="#2a5a8c" stroke-width="1.2"/>
<line x1="143.01" y1="532.50" x2="143.01" y2="536.60" stroke="#2a5a8c" stroke-width="1.0"/>
<line x1="140.21" y1="532.50" x2="145.81" y2="532.50" stroke="#2a5a8c" stroke-width="1.2"/>
<line x1="154.54" y1="533.70" x2="154.54" y2="541.00" stroke="#2a5a8c" stroke-width="1.0"/>
<line x1="151.74" y1="533.70" x2="157.34" y2="533.70" stroke="#2a5a8c" stroke-width="1.2"/>
<line x1="166.07" y1="522.70" x2="166.07" y2="529.30" stroke="#2a5a8c" stroke-width="1.0"/>
<line x1="163.27" y1="522.70" x2="168.87" y2="522.70" stroke="#2a5a8c" stroke-width="1.2"/>
<line x1="177.60" y1="530.80" x2="177.60" y2="539.20" stroke="#2a5a8c" stroke-width="1.0"/>
<line x1="174.80" y1="530.80" x2="180.40" y2="530.80" stroke="#2a5a8c" stroke-width="1.2"/>
<line x1="189.13" y1="521.50" x2="189.13" y2="532.20" stroke="#2a5a8c" stroke-width="1.0"/>
<line x1="186.33" y1="521.50" x2="191.93" y2="521.50" stroke="#2a5a8c" stroke-width="1.2"/>
<line x1="200.66" y1="534.20" x2="200.66" y2="541.50" stroke="#2a5a8c" stroke-width="1.0"/>
<line x1="197.86" y1="534.20" x2="203.46" y2="534.20" stroke="#2a5a8c" stroke-width="1.2"/>
<line x1="212.19" y1="528.60" x2="212.19" y2="537.00" stroke="#2a5a8c" stroke-width="1.0"/>
<line x1="209.39" y1="528.60" x2="214.99" y2="528.60" stroke="#2a5a8c" stroke-width="1.2"/>
<line x1="223.72" y1="528.20" x2="223.72" y2="538.10" stroke="#2a5a8c" stroke-width="1.0"/>
<line x1="220.92" y1="528.20" x2="226.52" y2="528.20" stroke="#2a5a8c" stroke-width="1.2"/>
<line x1="235.25" y1="530.00" x2="235.25" y2="542.10" stroke="#2a5a8c" stroke-width="1.0"/>
<line x1="232.45" y1="530.00" x2="238.05" y2="530.00" stroke="#2a5a8c" stroke-width="1.2"/>
<polyline points="62.30,517.40 85.36,519.00 96.89,520.50 108.42,523.80 119.95,523.50 131.48,525.30 143.01,523.90 166.07,528.20 177.60,520.00 200.66,520.90 212.19,520.00 223.72,521.50 235.25,525.50" fill="none" stroke="#4f5668" stroke-width="1.1" stroke-linejoin="miter"/>
<polygon points="85.36,522.00 88.86,516.00 81.86,516.00" fill="#4f5668"/>
<polygon points="96.89,523.50 100.39,517.50 93.39,517.50" fill="#4f5668"/>
<polygon points="108.42,526.80 111.92,520.80 104.92,520.80" fill="#4f5668"/>
<polygon points="119.95,526.50 123.45,520.50 116.45,520.50" fill="#4f5668"/>
<polygon points="131.48,528.30 134.98,522.30 127.98,522.30" fill="#4f5668"/>
<polygon points="143.01,526.90 146.51,520.90 139.51,520.90" fill="#4f5668"/>
<polygon points="166.07,531.20 169.57,525.20 162.57,525.20" fill="#4f5668"/>
<polygon points="177.60,523.00 181.10,517.00 174.10,517.00" fill="#4f5668"/>
<polygon points="200.66,523.90 204.16,517.90 197.16,517.90" fill="#4f5668"/>
<polygon points="212.19,523.00 215.69,517.00 208.69,517.00" fill="#4f5668"/>
<polygon points="223.72,524.50 227.22,518.50 220.22,518.50" fill="#4f5668"/>
<polygon points="235.25,528.50 238.75,522.50 231.75,522.50" fill="#4f5668"/>
<polyline points="62.30,517.40 85.36,519.60 96.89,522.50 108.42,527.20 119.95,530.60 131.48,533.30 143.01,536.60 154.54,541.00 166.07,529.30 177.60,539.20 189.13,532.20 200.66,541.50 212.19,537.00 223.72,538.10 235.25,542.10" fill="none" stroke="#1f4f82" stroke-width="1.2" stroke-linejoin="miter"/>
<polygon points="85.36,516.60 88.86,522.60 81.86,522.60" fill="#1a4b7d"/>
<polygon points="96.89,519.50 100.39,525.50 93.39,525.50" fill="#1a4b7d"/>
<polygon points="108.42,524.20 111.92,530.20 104.92,530.20" fill="#1a4b7d"/>
<polygon points="119.95,527.60 123.45,533.60 116.45,533.60" fill="#1a4b7d"/>
<polygon points="131.48,530.30 134.98,536.30 127.98,536.30" fill="#1a4b7d"/>
<polygon points="143.01,533.60 146.51,539.60 139.51,539.60" fill="#1a4b7d"/>
<polygon points="154.54,538.00 158.04,544.00 151.04,544.00" fill="#1a4b7d"/>
<polygon points="166.07,526.30 169.57,532.30 162.57,532.30" fill="#1a4b7d"/>
<polygon points="177.60,536.20 181.10,542.20 174.10,542.20" fill="#1a4b7d"/>
<polygon points="189.13,529.20 192.63,535.20 185.63,535.20" fill="#1a4b7d"/>
<polygon points="200.66,538.50 204.16,544.50 197.16,544.50" fill="#1a4b7d"/>
<polygon points="212.19,534.00 215.69,540.00 208.69,540.00" fill="#1a4b7d"/>
<polygon points="223.72,535.10 227.22,541.10 220.22,541.10" fill="#1a4b7d"/>
<polygon points="235.25,539.10 238.75,545.10 231.75,545.10" fill="#1a4b7d"/>
<line x1="108.42" y1="551.60" x2="108.42" y2="558.80" stroke="#3aa83a" stroke-width="1.0"/>
<line x1="105.62" y1="551.60" x2="111.22" y2="551.60" stroke="#3aa83a" stroke-width="1.2"/>
<line x1="119.95" y1="551.60" x2="119.95" y2="557.60" stroke="#3aa83a" stroke-width="1.0"/>
<line x1="117.15" y1="551.60" x2="122.75" y2="551.60" stroke="#3aa83a" stroke-width="1.2"/>
<polyline points="62.30,517.40 73.83,526.30 85.36,522.50 96.89,541.20 108.42,558.80 119.95,557.60 131.48,578.70" fill="none" stroke="#3aa83a" stroke-width="0.9" stroke-linejoin="miter"/>
<polyline points="62.30,517.40 73.83,522.80 85.36,522.50 96.89,536.70 108.42,555.70 119.95,566.60" fill="none" stroke="#b5102a" stroke-width="1.0" stroke-linejoin="miter"/>
<rect x="59.50" y="514.60" width="5.6" height="5.6" fill="#3aa83a" stroke="#2a8a2a" stroke-width="0.5"/>
<rect x="71.03" y="523.50" width="5.6" height="5.6" fill="#3aa83a" stroke="#2a8a2a" stroke-width="0.5"/>
<rect x="82.56" y="519.70" width="5.6" height="5.6" fill="#3aa83a" stroke="#2a8a2a" stroke-width="0.5"/>
<rect x="94.09" y="538.40" width="5.6" height="5.6" fill="#3aa83a" stroke="#2a8a2a" stroke-width="0.5"/>
<rect x="105.62" y="556.00" width="5.6" height="5.6" fill="#3aa83a" stroke="#2a8a2a" stroke-width="0.5"/>
<rect x="117.15" y="554.80" width="5.6" height="5.6" fill="#3aa83a" stroke="#2a8a2a" stroke-width="0.5"/>
<rect x="128.68" y="575.90" width="5.6" height="5.6" fill="#3aa83a" stroke="#2a8a2a" stroke-width="0.5"/>
<circle cx="62.30" cy="517.40" r="2.9" fill="#c8102e" stroke="#9c0a22" stroke-width="0.5"/>
<circle cx="73.83" cy="522.80" r="2.9" fill="#c8102e" stroke="#9c0a22" stroke-width="0.5"/>
<circle cx="85.36" cy="522.50" r="2.9" fill="#c8102e" stroke="#9c0a22" stroke-width="0.5"/>
<circle cx="96.89" cy="536.70" r="2.9" fill="#c8102e" stroke="#9c0a22" stroke-width="0.5"/>
<circle cx="108.42" cy="555.70" r="2.9" fill="#c8102e" stroke="#9c0a22" stroke-width="0.5"/>
<circle cx="119.95" cy="566.60" r="2.9" fill="#c8102e" stroke="#9c0a22" stroke-width="0.5"/>
<rect x="59.40" y="514.50" width="5.8" height="5.8" fill="#c8102e" stroke="#9c0a22" stroke-width="0.5"/>
<line x1="284.00" y1="518.40" x2="294.00" y2="518.40" stroke="#c8102e" stroke-width="1.1"/>
<circle cx="289.00" cy="518.40" r="2.5" fill="#c8102e" stroke="#9c0a22" stroke-width="0.5"/>
<text x="298.5" y="521.4" font-size="8.2" text-anchor="start" fill="#2b2b2b" font-weight="normal" textLength="49.9" lengthAdjust="spacingAndGlyphs">PBMC (n = 6)</text>
<line x1="284.00" y1="531.10" x2="294.00" y2="531.10" stroke="#3aa83a" stroke-width="1.1"/>
<rect x="286.60" y="528.70" width="4.8" height="4.8" fill="#3aa83a" stroke="#2a8a2a" stroke-width="0.5"/>
<text x="298.5" y="534.1" font-size="8.2" text-anchor="start" fill="#2b2b2b" font-weight="normal" textLength="67.7" lengthAdjust="spacingAndGlyphs">SA-PBMC (n = 10)</text>
<line x1="284.00" y1="543.80" x2="294.00" y2="543.80" stroke="#1f4f82" stroke-width="1.1"/>
<polygon points="289.00,541.30 292.00,546.30 286.00,546.30" fill="#1a4b7d"/>
<text x="298.5" y="546.8" font-size="8.2" text-anchor="start" fill="#2b2b2b" font-weight="normal" textLength="109.0" lengthAdjust="spacingAndGlyphs">25 ng SA-FasL-PBMC (n = 20)</text>
<line x1="284.00" y1="556.50" x2="294.00" y2="556.50" stroke="#4f5668" stroke-width="1.1"/>
<polygon points="289.00,559.00 292.00,554.00 286.00,554.00" fill="#4f5668"/>
<text x="298.5" y="559.5" font-size="8.2" text-anchor="start" fill="#2b2b2b" font-weight="normal" textLength="104.2" lengthAdjust="spacingAndGlyphs">50 ng SA-FasL-PBMC (n = 5)</text>
<polyline points="400.40,514.70 405.00,514.70 405.00,527.20 400.40,527.20" fill="none" stroke="#333" stroke-width="1.0" stroke-linejoin="miter"/>
<line x1="405.00" y1="519.20" x2="454.20" y2="519.20" stroke="#333" stroke-width="1.0"/>
<line x1="454.20" y1="519.20" x2="454.20" y2="543.00" stroke="#333" stroke-width="1.0"/>
<polyline points="448.80,543.00 455.60,543.00 455.60,554.20 448.80,554.20" fill="none" stroke="#333" stroke-width="1.0" stroke-linejoin="miter"/>
<line x1="448.80" y1="543.00" x2="454.20" y2="543.00" stroke="#222" stroke-width="1.8"/>
<polyline points="467.70,527.20 471.50,527.20 471.50,554.20 466.50,554.20" fill="none" stroke="#333" stroke-width="1.0" stroke-linejoin="miter"/>
<polyline points="478.00,514.20 482.50,514.20 482.50,553.80 478.00,553.80" fill="none" stroke="#333" stroke-width="1.0" stroke-linejoin="miter"/>
<text x="457.5" y="556.0" font-size="8.2" text-anchor="start" fill="#2b2b2b" font-weight="normal">ns</text>
<circle cx="458.5" cy="526.00" r="0.95" fill="#222"/>
<circle cx="458.5" cy="529.00" r="0.95" fill="#222"/>
<circle cx="458.5" cy="532.00" r="0.95" fill="#222"/>
<circle cx="458.5" cy="535.00" r="0.95" fill="#222"/>
<circle cx="474.8" cy="535.50" r="0.95" fill="#222"/>
<circle cx="474.8" cy="538.50" r="0.95" fill="#222"/>
<circle cx="474.8" cy="541.50" r="0.95" fill="#222"/>
<circle cx="474.8" cy="544.50" r="0.95" fill="#222"/>
<circle cx="486.3" cy="532.30" r="0.95" fill="#222"/>
<circle cx="486.3" cy="535.30" r="0.95" fill="#222"/>
</svg>
</body></html>
